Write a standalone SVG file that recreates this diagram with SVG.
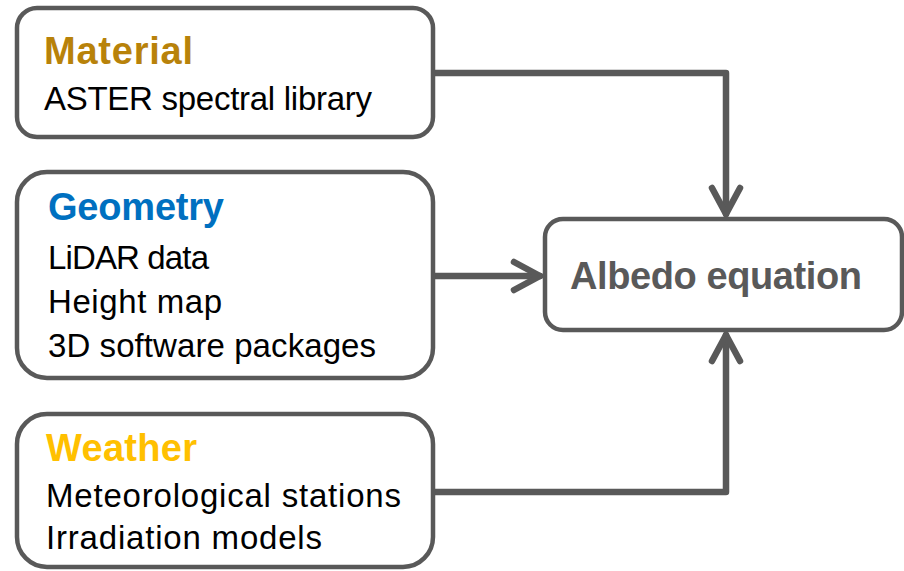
<svg xmlns="http://www.w3.org/2000/svg" width="904" height="571" viewBox="0 0 904 571">
<style>
.box{fill:#fff;stroke:#595959;stroke-width:4.5}
.head{font-family:"Liberation Sans",Arial,sans-serif;font-weight:bold;font-size:38px}
.body{font-family:"Liberation Sans",Arial,sans-serif;font-size:33px;fill:#000}
.conn{fill:none;stroke:#595959;stroke-width:6.5;stroke-linejoin:round;stroke-linecap:round}
</style>
<rect width="904" height="571" fill="#fff"/>
<g id="connectors">
<path class="conn" d="M433 73 H726 V214"/>
<path class="conn" d="M712 188 L726 214 L740 188"/>
<path class="conn" d="M433 276 H540"/>
<path class="conn" d="M514 262 L540 276 L514 290"/>
<path class="conn" d="M433 492 H726 V335"/>
<path class="conn" d="M712 361 L726 335 L740 361"/>
</g>
<g id="material">
<rect class="box" x="17" y="8" width="416" height="129" rx="20"/>
<text class="head" x="44" y="64" fill="#B8820A" textLength="149">Material</text>
<text class="body" x="44" y="110" textLength="328">ASTER spectral library</text>
</g>
<g id="geometry">
<rect class="box" x="17" y="172" width="416" height="206" rx="30"/>
<text class="head" x="48" y="220" fill="#0070C0" textLength="176">Geometry</text>
<text class="body" x="48" y="269" textLength="161">LiDAR data</text>
<text class="body" x="48" y="313" textLength="174">Height map</text>
<text class="body" x="48" y="357" textLength="328">3D software packages</text>
</g>
<g id="weather">
<rect class="box" x="17" y="414" width="416" height="153" rx="30"/>
<text class="head" x="46" y="461" fill="#FFC000" textLength="151">Weather</text>
<text class="body" x="46" y="507" textLength="355">Meteorological stations</text>
<text class="body" x="46" y="549" textLength="276">Irradiation models</text>
</g>
<g id="albedo">
<rect class="box" x="545" y="219" width="357" height="111" rx="18"/>
<text class="head" x="570" y="289" fill="#595959" font-size="36" textLength="292">Albedo equation</text>
</g>
</svg>
